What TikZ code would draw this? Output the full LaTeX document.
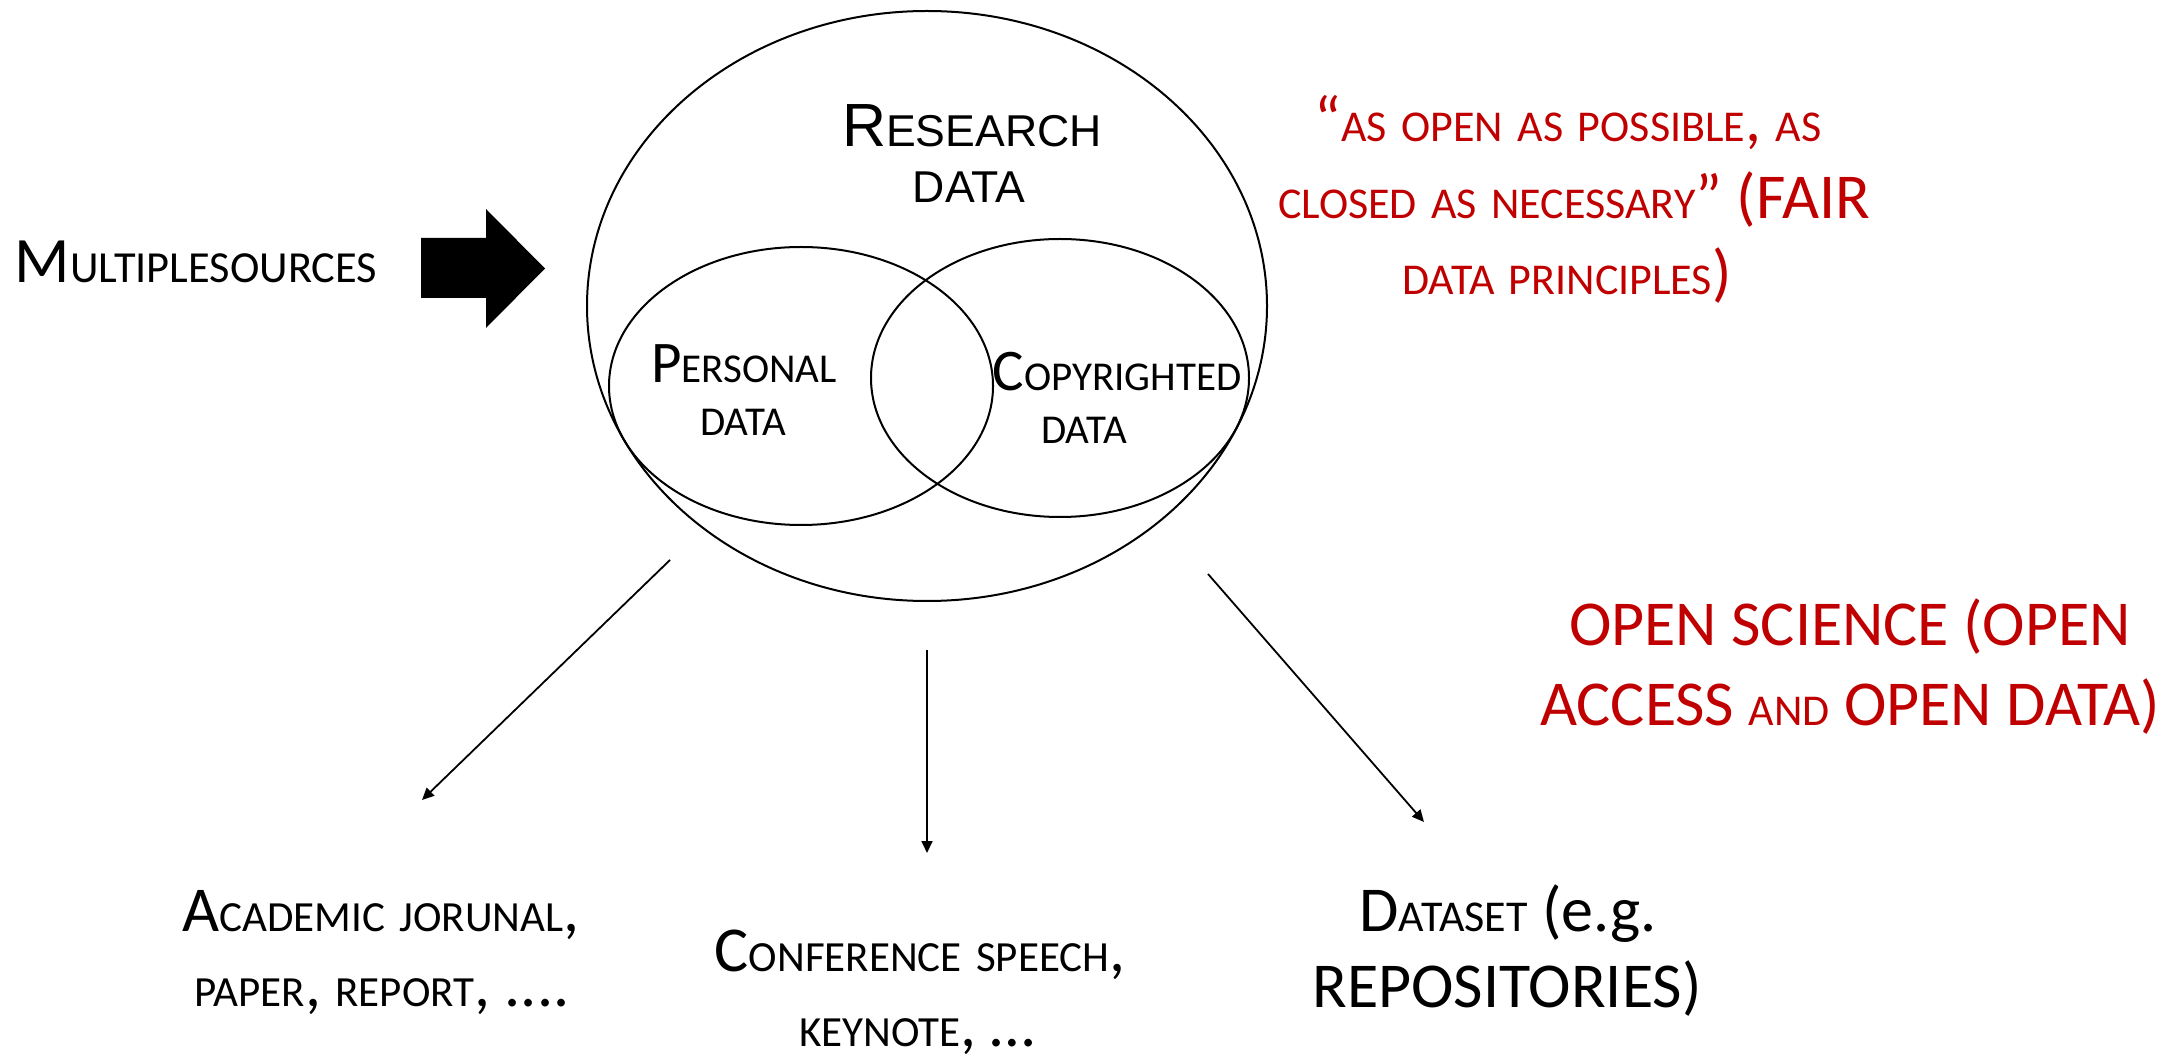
\documentclass[tikz,border=0pt]{standalone}
\usepackage{fontspec}
\setmainfont{Carlito}
\newfontfamily\headfont{Liberation Sans}
\usetikzlibrary{shapes.geometric, arrows.meta}
\definecolor{ppred}{HTML}{C00000}
\newcommand\fs[1]{\fontsize{#1}{#1}\selectfont}
% lowercase letters set as reduced capitals; punctuation and spaces keep full size
\newcommand\smsize{21.5}
\newcommand\sm[1]{{\fontsize{\smsize}{\smsize}\selectfont #1}}
\begin{document}
\begin{tikzpicture}[x=0.5pt, y=-0.5pt,
  txt/.style={inner sep=0pt, outer sep=0pt, anchor=base},
  redtxt/.style={txt, text=ppred},
  body/.style={font={\fs{32}\def\smsize{21.5}}},
  quote/.style={font={\fs{32}\def\smsize{22}}},
  inner/.style={font={\fs{29.5}\def\smsize{20.5}}},
  head/.style={font={\headfont\fs{30.5}\def\smsize{22.3}}},
  venn/.style={draw, ellipse, line width=1pt, inner sep=0pt},
  flow/.style={line width=0.9pt, -{Triangle[length=6pt,width=5.5pt]}}]
\useasboundingbox (0,0) rectangle (2184,1058);

% Venn diagram
\node[venn, minimum width=340pt, minimum height=295pt] (research) at (927,306) {};
\node[venn, minimum width=192pt, minimum height=139pt] (personal) at (801,386) {};
\node[venn, minimum width=189pt, minimum height=139pt] (copyright) at (1060,378) {};

\node[txt, head] (res1) at (972,147) {R\sm{ESEARCH}};
\node[txt, head] (res2) at (969,203) {\sm{DATA}};
\node[txt, inner] (per1) at (744,383) {P\sm{ERSONAL}};
\node[txt, inner] (per2) at (743,436) {\sm{DATA}};
\node[txt, inner] (cop1) at (1117,391) {C\sm{OPYRIGHTED}};
\node[txt, inner] (cop2) at (1084,444) {\sm{DATA}};

% incoming sources
\node[txt, font={\fs{32.4}\def\smsize{22.2}}] (src) at (196,283) {M\sm{ULTIPLESOURCES}};
\fill (421,238) -- (486,238) -- (486,209) -- (545,268.5) -- (486,328)
      -- (486,298) -- (421,298) -- cycle;

% principles
\node[redtxt, quote] (q1) at (1568,142) {“\sm{AS} \sm{OPEN} \sm{AS} \sm{POSSIBLE}, \sm{AS}};
\node[redtxt, quote] (q2) at (1574,219) {\sm{CLOSED} \sm{AS} \sm{NECESSARY}” (FAIR};
\node[redtxt, quote] (q3) at (1567,295) {\sm{DATA} \sm{PRINCIPLES})};
\node[redtxt, quote] (os1) at (1850,646) {OPEN SCIENCE (OPEN};
\node[redtxt, quote] (os2) at (1850,725) {ACCESS \sm{AND} OPEN DATA)};

% outputs
\node[txt, body] (acad1) at (381,931) {A\sm{CADEMIC} \sm{JORUNAL},};
\node[txt, body] (acad2) at (382,1006) {\sm{PAPER}, \sm{REPORT}, ....};
\node[txt, body] (conf1) at (920,971) {C\sm{ONFERENCE} \sm{SPEECH},};
\node[txt, body] (conf2) at (917,1046) {\sm{KEYNOTE}, …};
\node[txt, body, font={\fs{32}\def\smsize{22}}] (ds1) at (1508,931) {D\sm{ATASET} (e.g.};
\node[txt, body] (ds2) at (1507,1007) {REPOSITORIES)};

\coordinate (a1s) at (670,560);  \coordinate (a1e) at (422,800);
\coordinate (a2s) at (927,650);  \coordinate (a2e) at (927,853);
\coordinate (a3s) at (1208,574); \coordinate (a3e) at (1424,822);
\draw[flow] (a1s) -- (a1e);
\draw[flow] (a2s) -- (a2e);
\draw[flow] (a3s) -- (a3e);
\end{tikzpicture}
\end{document}
